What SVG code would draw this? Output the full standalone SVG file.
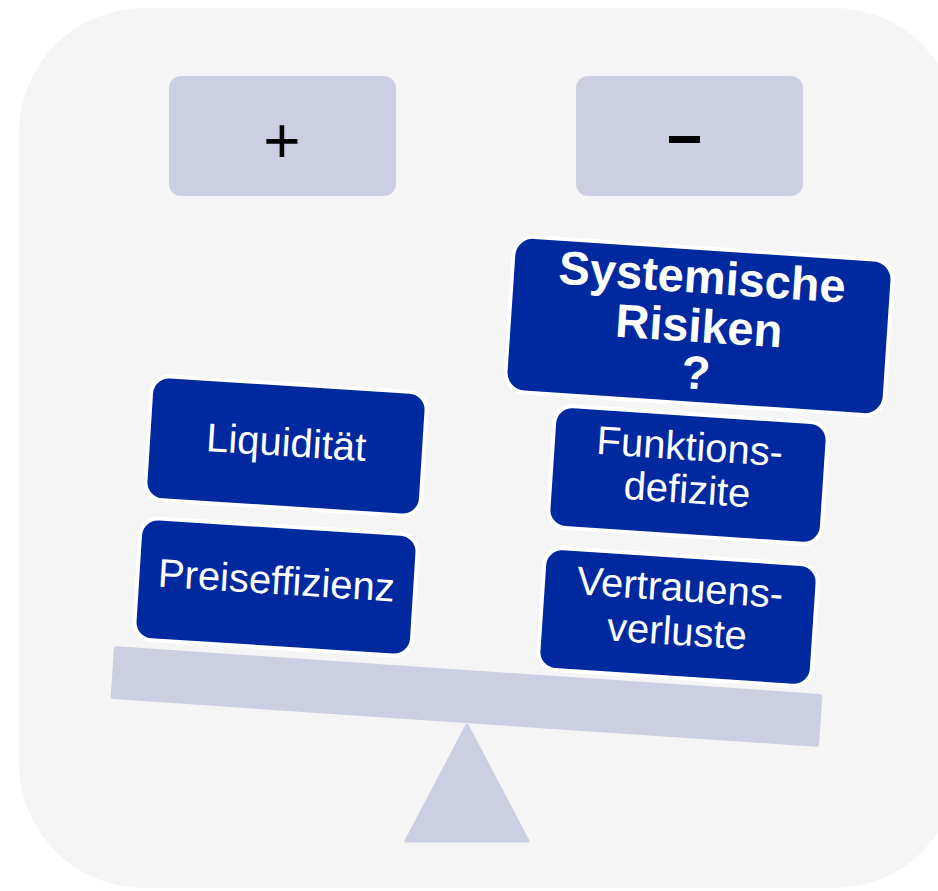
<svg xmlns="http://www.w3.org/2000/svg" width="938" height="891" viewBox="0 0 938 891">
  <style>
    .panel { fill: #cccfe1; }
    .sign { font-family: "Liberation Sans", Arial, sans-serif; fill: #000; text-anchor: middle; }
    .card { fill: #0029a0; stroke: #ffffff; stroke-width: 4; }
    .label { font-family: "Liberation Sans", Arial, sans-serif; fill: #ffffff; text-anchor: middle; font-size: 40px; }
    .title { font-weight: bold; font-size: 47px; }
  </style>

  <!-- backdrop -->
  <rect id="backdrop" x="19" y="8" width="940" height="880" rx="125" ry="125" fill="#f5f5f5"/>

  <!-- column headers -->
  <g id="header-plus">
    <rect class="panel" x="169" y="76" width="227" height="120" rx="12"/>
    <text class="sign" x="282" y="163" font-size="64">+</text>
  </g>
  <g id="header-minus">
    <rect class="panel" x="576" y="76" width="227" height="120" rx="12"/>
    <rect x="669" y="136" width="31" height="7" fill="#000"/>
  </g>

  <!-- seesaw -->
  <g id="fulcrum">
    <polygon class="panel" points="467,725 406,841 528,841" stroke="#cccfe1" stroke-width="3" stroke-linejoin="round"/>
  </g>
  <g id="beam" transform="translate(466.5,696.5) rotate(3.88)">
    <rect class="panel" x="-355" y="-26.5" width="710" height="53" rx="3"/>
  </g>

  <!-- left side: benefits -->
  <g id="preiseffizienz" transform="translate(276,587) rotate(3.6)">
    <rect class="card" x="-139" y="-61" width="278" height="122" rx="18"/>
    <text class="label" x="0" y="7">Preiseffizienz</text>
  </g>
  <g id="liquiditaet" transform="translate(286,446) rotate(3.6)">
    <rect class="card" x="-138" y="-62" width="276" height="124" rx="18"/>
    <text class="label" x="0" y="10">Liquidität</text>
  </g>

  <!-- right side: drawbacks -->
  <g id="vertrauensverluste" transform="translate(678,617) rotate(3.8)">
    <rect class="card" x="-137" y="-61" width="274" height="122" rx="18"/>
    <text class="label" x="0" y="-16">Vertrauens-</text>
    <text class="label" x="0" y="28">verluste</text>
  </g>
  <g id="funktionsdefizite" transform="translate(688,475) rotate(3.8)">
    <rect class="card" x="-137" y="-61" width="274" height="122" rx="18"/>
    <text class="label" x="0" y="-15">Funktions-</text>
    <text class="label" x="0" y="28">defizite</text>
  </g>
  <g id="systemische-risiken" transform="translate(699,326) rotate(3.8)">
    <rect class="card" x="-190" y="-78" width="380" height="156" rx="20"/>
    <text class="label title" x="0" y="-33">Systemische</text>
    <text class="label title" x="0" y="16">Risiken</text>
    <text class="label title" x="0" y="63">?</text>
  </g>
</svg>
